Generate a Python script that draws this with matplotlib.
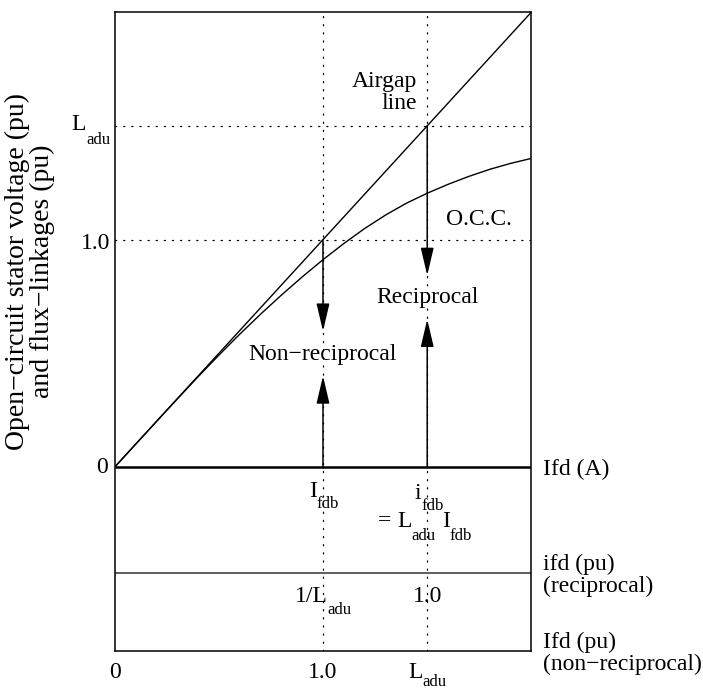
import matplotlib.pyplot as plt

plt.rcParams['font.family'] = ['Liberation Serif', 'DejaVu Serif']

# Data (pu)
L_adu = 1.5
airgap_x = [0.0, 2.0]
airgap_y = [0.0, 2.0]
occ_x = [0.0, 0.1, 0.2, 0.3, 0.4, 0.5, 0.6, 0.7, 0.8, 0.9, 1.0,
         1.1, 1.2, 1.3, 1.4, 1.5, 1.6, 1.7, 1.8, 1.9, 2.0]
occ_y = [0.0, 0.1, 0.2, 0.299, 0.397, 0.492, 0.584, 0.672, 0.756, 0.836, 0.912,
         0.983, 1.049, 1.108, 1.160, 1.204, 1.243, 1.278, 1.309, 1.335, 1.357]
guide_x = [1.0, L_adu]
guide_y = [1.0, L_adu]
# arrows: (x, start, tip)
arrows_down = [(1.0, 1.0, 0.598), (L_adu, L_adu, 0.843)]
arrows_up = [(1.0, 0.0, 0.401), (L_adu, 0.0, 0.650)]
y_recip = -0.464
y_bottom = -0.806

fs = 17
fs_sub = 12

fig = plt.figure(figsize=(7.03, 6.91), dpi=100)
ax = fig.add_axes([0.1629, 0.0583, 0.7560 - 0.1629, 0.9826 - 0.0583])
ax.set_xlim(0, 2.0)
ax.set_ylim(y_bottom, 2.0)
ax.set_xticks([])
ax.set_yticks([])
for s in ax.spines.values():
    s.set_linewidth(1.1)
    s.set_color('black')

dot = (0, (1.0, 5.5))
for gx in guide_x:
    ax.plot([gx, gx], [y_bottom, 2.0], color='black', lw=0.9, ls=dot,
            dash_capstyle='round')
for gy in guide_y:
    ax.plot([0, 2.0], [gy, gy], color='black', lw=0.9, ls=dot,
            dash_capstyle='round')

# axis lines
ax.plot([0, 2.0], [0, 0], color='black', lw=1.8, solid_capstyle='butt')
ax.plot([0, 2.0], [y_recip, y_recip], color='#333333', lw=1.1)

# curves
ax.plot(airgap_x, airgap_y, color='black', lw=1.0)
ax.plot(occ_x, occ_y, color='black', lw=1.0)

aprops = dict(arrowstyle='-|>,head_length=1.7,head_width=0.4', color='black',
              lw=1.1, shrinkA=0, shrinkB=0, mutation_scale=10)
for x, y0, y1 in arrows_down + arrows_up:
    ax.annotate('', xy=(x, y1), xytext=(x, y0), arrowprops=aprops)

renderer = fig.canvas.get_renderer()


def sub_label(x, y, parts, drop, ha='center'):
    """parts: list of (text, is_subscript); (x, y) = baseline of main text."""
    items = []
    dx = 0.0
    for txt, is_sub in parts:
        dy = -drop if is_sub else 0.0
        t = ax.annotate(txt, xy=(x, y), xycoords='data', xytext=(dx, dy),
                        textcoords='offset pixels', ha='left', va='baseline',
                        fontsize=fs_sub if is_sub else fs, annotation_clip=False)
        dx += t.get_window_extent(renderer).width
        items.append((t, dy))
    shift = {'left': 0.0, 'center': dx / 2, 'right': dx}[ha]
    for t, dy in items:
        ox, _ = t.xyann
        t.xyann = (ox - shift, dy)


# labels inside
ax.text(1.451, 1.645, 'Airgap\nline', ha='right', va='center',
        multialignment='right', fontsize=fs, linespacing=1.05)
ax.text(1.75, 1.087, 'O.C.C.', ha='center', va='center', fontsize=fs)
ax.text(1.0, 0.496, 'Non\u2212reciprocal', ha='center', va='center', fontsize=fs)
ax.text(L_adu, 0.744, 'Reciprocal', ha='center', va='center', fontsize=fs)

# y tick labels
ax.text(-0.03, 0.0, '0', ha='right', va='center', fontsize=fs)
ax.text(-0.02, 0.985, '1.0', ha='right', va='center', fontsize=fs)
sub_label(-0.02, 1.482, [('L', False), ('adu', True)], 14, ha='right')

# lower scale labels
sub_label(1.005, -0.131, [('I', False), ('fdb', True)], 11)
sub_label(1.51, -0.138, [('i', False), ('fdb', True)], 11)
sub_label(1.49, -0.261, [('= ', False), ('L', False), ('adu', True),
                         (' ', False), ('I', False), ('fdb', True)], 13)
sub_label(1.0, -0.591, [('1/L', False), ('adu', True)], 12)
ax.text(L_adu, -0.591, '1.0', ha='center', va='baseline', fontsize=fs)
ax.text(0.0, -0.925, '0', ha='center', va='baseline', fontsize=fs)
ax.text(1.0, -0.925, '1.0', ha='center', va='baseline', fontsize=fs)
sub_label(L_adu, -0.925, [('L', False), ('adu', True)], 8)

# right-hand axis names
ax.text(2.057, -0.01, 'Ifd (A)', ha='left', va='center', fontsize=fs)
ax.text(2.057, -0.476, 'ifd (pu)\n(reciprocal)', ha='left', va='center',
        fontsize=fs, linespacing=1.05)
ax.text(2.057, -0.818, 'Ifd (pu)\n(non\u2212reciprocal)', ha='left', va='center',
        fontsize=fs, linespacing=1.05)

# y axis title
fig.text(30 / 703, 1 - 271.5 / 691,
         'Open\u2212circuit stator voltage (pu)\nand flux\u2212linkages (pu)',
         rotation=90, ha='center', va='center', multialignment='center',
         fontsize=20, linespacing=0.95)

plt.savefig('out.png', dpi=100)
